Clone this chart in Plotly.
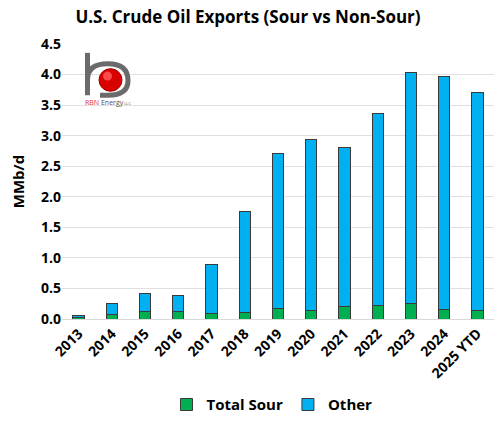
import plotly.graph_objects as go

years = ["2013", "2014", "2015", "2016", "2017", "2018", "2019", "2020",
         "2021", "2022", "2023", "2024", "2025 YTD"]
total = [0.06, 0.26, 0.42, 0.39, 0.89, 1.76, 2.71, 2.94, 2.81, 3.37, 4.03, 3.97, 3.71]
sour = [0.03, 0.07, 0.13, 0.12, 0.09, 0.10, 0.17, 0.14, 0.20, 0.22, 0.25, 0.16, 0.14]
other = [round(t - s, 2) for t, s in zip(total, sour)]
y_ticks = [0.0, 0.5, 1.0, 1.5, 2.0, 2.5, 3.0, 3.5, 4.0, 4.5]

W, H = 500, 427
L, R, T, B = 62, 6, 44, 104
pw, ph = W - L - R, H - T - B


def px(x):
    return (x - L) / pw


def py(y):
    return (H - B - y) / ph


FONT = "Open Sans"
fig = go.Figure()
fig.add_trace(go.Bar(x=years, y=sour, name="<b>Total Sour</b>",
                     marker=dict(color="#00B050", line=dict(color="#3a3a3a", width=1))))
fig.add_trace(go.Bar(x=years, y=other, name="<b>Other</b>",
                     marker=dict(color="#00B0F0", line=dict(color="#3a3a3a", width=1))))

shapes = []
# logo: stem and bowl
shapes.append(dict(type="line", xref="paper", yref="paper",
                   x0=px(87.5), y0=py(53), x1=px(87.5), y1=py(96),
                   line=dict(color="#6b6b6b", width=5)))
path = "M {},{} Q {},{} {},{} Q {},{} {},{} Q {},{} {},{} L {},{}".format(
    px(87.5), py(80), px(87.5), py(64), px(108), py(64),
    px(128), py(64), px(128), py(81), px(128), py(96), px(108), py(96), px(100), py(96))
shapes.append(dict(type="path", xref="paper", yref="paper", path=path,
                   line=dict(color="#6b6b6b", width=5)))
shapes.append(dict(type="circle", xref="paper", yref="paper",
                   x0=px(99), x1=px(122), y0=py(69), y1=py(92),
                   fillcolor="#d80000", line=dict(color="#a00000", width=1)))
shapes.append(dict(type="circle", xref="paper", yref="paper",
                   x0=px(103), x1=px(112), y0=py(72), y1=py(81),
                   fillcolor="#ff4a4a", line=dict(width=0)))

annotations = [
    dict(text="<span style='color:#e03030'>RBN</span> Energy<span style='font-size:4px'> LLC</span>",
         xref="paper", yref="paper", x=px(83), y=py(103), xanchor="left", yanchor="middle",
         showarrow=False, font=dict(family=FONT, size=7, color="#555555")),
]

fig.update_layout(
    width=W, height=H,
    margin=dict(l=L, r=R, t=T, b=B),
    barmode="stack",
    bargap=0.66,
    plot_bgcolor="white", paper_bgcolor="white",
    title=dict(text="<b>U.S. Crude Oil Exports (Sour vs Non-Sour)</b>",
               x=248 / W, xref="container", xanchor="center", y=1 - 17 / H, yanchor="middle",
               font=dict(family=FONT, size=17, color="#000000")),
    xaxis=dict(tickangle=-45, tickfont=dict(family=FONT, size=14, color="#000000"),
               showgrid=False, showline=True, linecolor="#d9d9d9", ticks="",
               tickprefix="<b>", ticksuffix="</b>", automargin=False),
    yaxis=dict(range=[0, 4.5], tickvals=y_ticks, ticktext=["<b>%.1f</b>" % v for v in y_ticks],
               tickfont=dict(family=FONT, size=14, color="#000000"), automargin=False,
               showgrid=True, gridcolor="#e0e0e0", gridwidth=1, zeroline=False,
               title=dict(text="<b>MMb/d</b>", font=dict(family=FONT, size=15, color="#000000"),
                          standoff=12)),
    legend=dict(orientation="h", x=px(272), xanchor="center", y=py(410), yanchor="middle",
                font=dict(family=FONT, size=15, color="#000000"), traceorder="normal",
                itemwidth=30),
    shapes=shapes,
    annotations=annotations,
)

fig.write_html("out.html")
